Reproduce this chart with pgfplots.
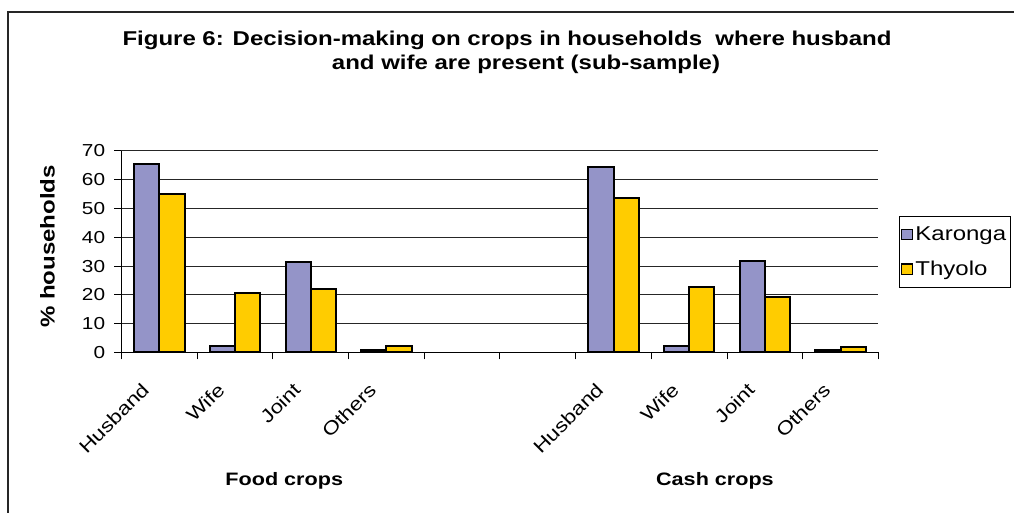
\documentclass[border=0pt]{standalone}
\usepackage{pgfplots}
\pgfplotsset{compat=1.18}
\usepackage{fontspec}
\setmainfont[FakeStretch=1.2]{Liberation Sans}

\definecolor{karonga}{HTML}{9494C8}
\definecolor{thyolo}{HTML}{FFCC00}

% square swatches in the legend instead of the default bar pictogram
\pgfplotsset{
  /pgfplots/ybar legend/.style={
    /pgfplots/legend image code/.code={%
      \draw[##1, line width=0.9pt, draw=black] (0pt,-3.9pt) rectangle (7.8pt,3.9pt);}}}

\begin{document}
\begin{tikzpicture}[x=0.75pt,y=0.75pt]
\path[use as bounding box] (0,0) rectangle (1014,513);
% chart frame
\draw[line width=1.5pt, black!85] (8,-8) -- (8,501) -- (1022,501);
% title
\node[font=\bfseries\fontsize{15}{18}\selectfont] at (507,473)
  {Figure 6: Decision-making on crops in households\ \ where husband};
\node[font=\bfseries\fontsize{15}{18}\selectfont] at (526,449)
  {and wife are present (sub-sample)};

\begin{axis}[
  at={(91.1pt,120.4pt)}, anchor=south west,
  scale only axis, width=567.75pt, height=151.1pt,
  xmin=-0.5, xmax=9.5, ymin=0, ymax=70,
  axis lines*=left,
  axis line style={black, line width=0.75pt},
  ytick={0,10,...,70},
  ymajorgrids,
  grid style={black!85, line width=0.75pt},
  xtick={0,1,2,3,6,7,8,9},
  xticklabels={Husband,Wife,Joint,Others,Husband,Wife,Joint,Others},
  minor xtick={-0.5,0.5,...,9.5},
  major x tick style={draw=none},
  tick align=outside,
  major tick length=5.25pt, minor tick length=5.25pt,
  tick style={black, line width=0.75pt},
  /pgf/number format/assume math mode=true,
  y tick label style={font=\fontsize{13}{15}\selectfont, xshift=-3.5pt},
  x tick label style={font=\fontsize{14}{16}\selectfont,
    xshift=-14pt, yshift=-15pt, rotate=45, anchor=north east, inner sep=1pt},
  ylabel={\% households},
  every axis y label/.style={at={(axis description cs:-0.0977,0.5263)},
    font=\bfseries\fontsize{15}{17}\selectfont, rotate=90, anchor=center},
  ybar=0pt, bar width=18.9pt,
  legend style={at={(axis description cs:1.0267,0.6774)}, anchor=north west,
    draw=black, line width=0.75pt, font=\fontsize{15}{17}\selectfont,
    inner xsep=1.5pt, inner ysep=5.5pt, row sep=10pt,
    /tikz/every even column/.append style={column sep=0pt}},
  legend cell align=left,
  clip=false,
]
\addplot[fill=karonga, draw=black, line width=1.5pt]
  coordinates {(0,65.4) (1,2.4) (2,31.4) (3,0.7) (6,64.4) (7,2.4) (8,31.9) (9,0.7)};
\addplot[fill=thyolo, draw=black, line width=1.5pt]
  coordinates {(0,55.2) (1,20.5) (2,21.9) (3,2.4) (6,53.6) (7,22.8) (8,19.4) (9,2.0)};
\legend{Karonga,Thyolo}
\node[font=\bfseries\fontsize{13.5}{15}\selectfont] at (axis description cs:0.215,-0.638) {Food crops};
\node[font=\bfseries\fontsize{13.5}{15}\selectfont] at (axis description cs:0.784,-0.638) {Cash crops};
\end{axis}
\end{tikzpicture}
\end{document}
